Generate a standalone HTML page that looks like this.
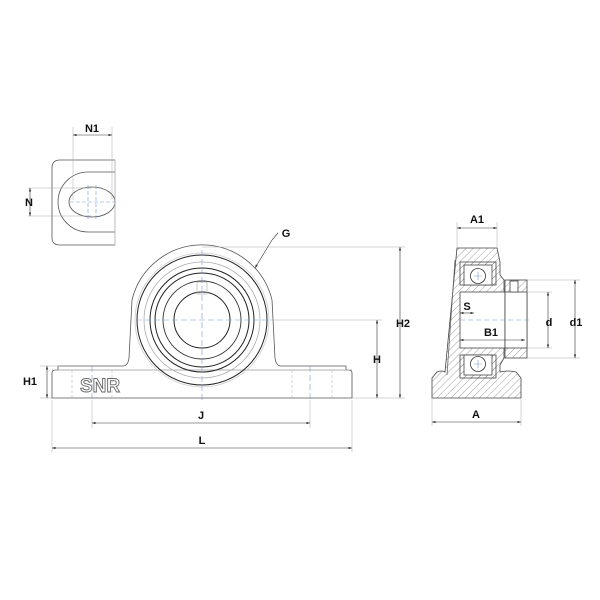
<!DOCTYPE html>
<html><head><style>
html,body{margin:0;padding:0;background:#fff}
svg{display:block}
text{font-family:"Liberation Sans",sans-serif;font-weight:bold;font-size:11px;fill:#111;text-anchor:middle}
</style></head><body>
<svg width="600" height="600" viewBox="0 0 600 600" xmlns="http://www.w3.org/2000/svg">
<defs>
<pattern id="h" width="5" height="5" patternUnits="userSpaceOnUse" patternTransform="rotate(45)">
<line x1="0" y1="0" x2="0" y2="5" stroke="#777" stroke-width="0.7"/></pattern>
<marker id="a" markerWidth="6" markerHeight="4" refX="6" refY="2" orient="auto-start-reverse"><path d="M0,0L6,2L0,4z" fill="#333"/></marker>
</defs>
<g fill="none" stroke="#555" stroke-width="0.8">
<path d="M115,160 H60 Q52,160 52,168 V238 Q52,245 60,245 H115"/>
<path d="M115,172 H88 A30,30 0 0 0 88,232 H115"/>
<ellipse cx="92" cy="202" rx="23" ry="15"/>
<line x1="115" y1="160" x2="115" y2="245" stroke="#aaa"/>
<g stroke="#7a9bd0" stroke-dasharray="4,2" stroke-width="0.6">
<line x1="70" y1="202" x2="116" y2="202"/><line x1="88" y1="185" x2="88" y2="220"/><line x1="96" y1="185" x2="96" y2="220"/></g>
<g stroke="#aaa" stroke-width="0.5">
<line x1="73" y1="127" x2="73" y2="200"/><line x1="112" y1="127" x2="112" y2="200"/>
<line x1="28" y1="188" x2="92" y2="188"/><line x1="28" y1="216" x2="92" y2="216"/></g>
<line x1="73" y1="135" x2="112" y2="135" stroke="#333" stroke-width="0.6" marker-start="url(#a)" marker-end="url(#a)"/>
<line x1="30" y1="188" x2="30" y2="216" stroke="#333" stroke-width="0.6" marker-start="url(#a)" marker-end="url(#a)"/>

<path d="M52,398 V373 Q52,370 56,370 H58 V366 H123 Q128,366 129,358 L132,300 A72,72 0 0 1 272,300 L275,358 Q276,366 281,366 H346 V370 H348 Q352,370 352,373 V398 Z"/>
<line x1="52" y1="370" x2="352" y2="370" stroke="#999"/>
<circle cx="202" cy="320" r="65" stroke="#222" stroke-width="1"/>
<circle cx="202" cy="320" r="58" stroke="#aaa"/>
<circle cx="202" cy="320" r="52" stroke="#222" stroke-width="1"/>
<circle cx="202" cy="320" r="47" stroke="#222" stroke-width="1"/>
<circle cx="202" cy="320" r="39" stroke="#333" stroke-width="0.9"/>
<circle cx="202" cy="320" r="28" stroke="#222" stroke-width="1"/>
<circle cx="202" cy="320" r="67" stroke="#ccc"/>
<rect x="197" y="282" width="10" height="12" stroke="#bbb"/>
<g stroke="#bbb" stroke-width="0.6" stroke-dasharray="3,2">
<line x1="72" y1="370" x2="72" y2="398"/><line x1="112" y1="370" x2="112" y2="398"/>
<line x1="292" y1="370" x2="292" y2="398"/><line x1="332" y1="370" x2="332" y2="398"/></g>
<g stroke="#7a9bd0" stroke-dasharray="6,3" stroke-width="0.6">
<line x1="136" y1="320" x2="268" y2="320"/><line x1="202" y1="250" x2="202" y2="400"/>
<line x1="92" y1="366" x2="92" y2="400"/><line x1="310" y1="366" x2="310" y2="400"/></g>
<text x="100" y="392" style="font-size:19px;fill:#fff;stroke:#666;stroke-width:0.9;font-weight:bold">SNR</text>
<g stroke="#aaa" stroke-width="0.5">
<line x1="202" y1="247" x2="405" y2="247"/><line x1="270" y1="320" x2="382" y2="320"/>
<line x1="352" y1="398" x2="405" y2="398"/><line x1="40" y1="366" x2="60" y2="366"/><line x1="40" y1="398" x2="52" y2="398"/>
<line x1="92" y1="400" x2="92" y2="428"/><line x1="310" y1="400" x2="310" y2="428"/>
<line x1="52" y1="400" x2="52" y2="452"/><line x1="352" y1="400" x2="352" y2="452"/></g>
<g stroke="#333" stroke-width="0.6">
<line x1="92" y1="423" x2="310" y2="423" marker-start="url(#a)" marker-end="url(#a)"/>
<line x1="52" y1="448" x2="352" y2="448" marker-start="url(#a)" marker-end="url(#a)"/>
<line x1="377" y1="320" x2="377" y2="398" marker-start="url(#a)" marker-end="url(#a)"/>
<line x1="400" y1="247" x2="400" y2="398" marker-start="url(#a)" marker-end="url(#a)"/>
<line x1="47" y1="366" x2="47" y2="398" marker-start="url(#a)" marker-end="url(#a)"/>
<polyline points="255,268 272,240 278,233" marker-start="url(#a)"/></g>

<path d="M457,248 H497 L500,262 V275 L504,280 V358 L500,365 V372 Q508,370 516,372 L521,378 V398 H432 V378 L437,372 Q442,370 445,372 Z" fill="url(#h)" stroke="#444"/>
<rect x="460" y="292" width="45" height="56" fill="#fff" stroke="#444"/>
<rect x="505" y="280" width="22" height="78" fill="url(#h)" stroke="#444"/>
<rect x="505" y="292" width="22" height="56" fill="#fff" stroke="#444"/>
<rect x="460" y="262" width="36" height="23" fill="url(#h)" stroke="#444"/>
<rect x="460" y="355" width="36" height="23" fill="url(#h)" stroke="#444"/>
<rect x="464" y="265" width="28" height="20" fill="#fff" stroke="#444"/>
<rect x="464" y="355" width="28" height="20" fill="#fff" stroke="#444"/>
<circle cx="478" cy="276" r="7.5" fill="#fff" stroke="#333"/>
<circle cx="478" cy="364" r="7.5" fill="#fff" stroke="#333"/>
<rect x="510" y="281" width="8" height="11" fill="#fff" stroke="#444"/>
<path d="M447,375 L455,260" stroke="#666"/>
<g stroke="#7a9bd0" stroke-width="0.6"><path d="M474,276h8M478,272v8M474,364h8M478,360v8"/></g>
<line x1="460" y1="320" x2="530" y2="320" stroke="#7a9bd0" stroke-dasharray="5,3" stroke-width="0.6"/>
<g stroke="#aaa" stroke-width="0.5">
<line x1="457" y1="222" x2="457" y2="248"/><line x1="497" y1="222" x2="497" y2="248"/>
<line x1="432" y1="398" x2="432" y2="426"/><line x1="521" y1="398" x2="521" y2="426"/>
<line x1="527" y1="292" x2="552" y2="292"/><line x1="527" y1="348" x2="552" y2="348"/>
<line x1="527" y1="280" x2="580" y2="280"/><line x1="527" y1="358" x2="580" y2="358"/></g>
<g stroke="#333" stroke-width="0.6">
<line x1="457" y1="228" x2="497" y2="228" marker-start="url(#a)" marker-end="url(#a)"/>
<line x1="432" y1="422" x2="521" y2="422" marker-start="url(#a)" marker-end="url(#a)"/>
<line x1="548" y1="292" x2="548" y2="348" marker-start="url(#a)" marker-end="url(#a)"/>
<line x1="575" y1="280" x2="575" y2="358" marker-start="url(#a)" marker-end="url(#a)"/>
<line x1="460" y1="313" x2="474" y2="313" marker-start="url(#a)" marker-end="url(#a)"/>
<line x1="460" y1="340" x2="525" y2="340" marker-start="url(#a)" marker-end="url(#a)"/></g>
</g>
<text x="92" y="132">N1</text>
<text x="29" y="206">N</text>
<text x="286" y="237">G</text>
<text x="201" y="419">J</text>
<text x="202" y="444">L</text>
<text x="377" y="363">H</text>
<text x="403" y="327">H2</text>
<text x="30" y="385">H1</text>
<text x="477" y="223">A1</text>
<text x="476" y="418">A</text>
<text x="467" y="310">S</text>
<text x="491" y="336">B1</text>
<text x="549" y="326">d</text>
<text x="576" y="326">d1</text>
</svg>
</body></html>
